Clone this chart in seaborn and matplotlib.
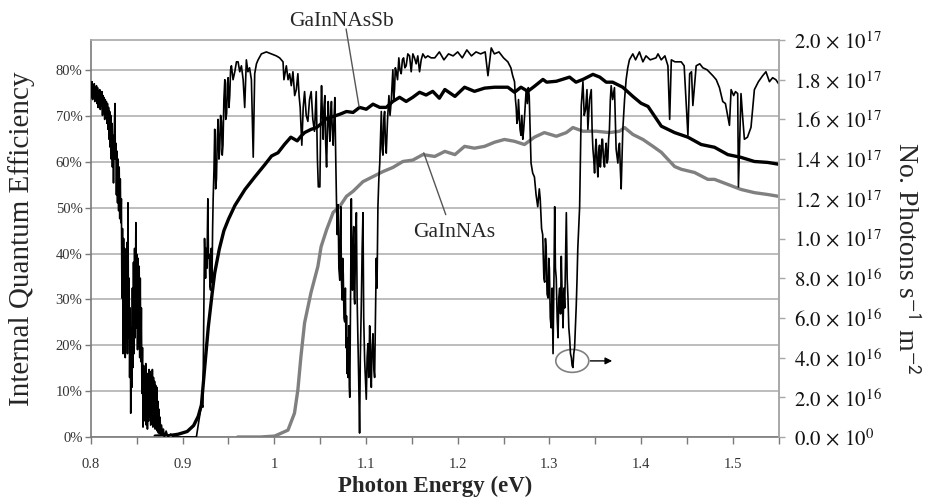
import matplotlib
matplotlib.use('Agg')
import numpy as np
import pandas as pd
import matplotlib.pyplot as plt
import seaborn as sns
from matplotlib.patches import Ellipse
from matplotlib.ticker import MultipleLocator

sns.set_theme(style='white')
plt.rcParams['font.family'] = ['Liberation Serif', 'DejaVu Serif']
plt.rcParams['mathtext.fontset'] = 'stix'

# ---------------- data ----------------
# GaInNAsSb internal quantum efficiency (%)
sb_ev = [0.870, 0.885, 0.895, 0.905, 0.912, 0.917, 0.9205, 0.924, 0.928, 0.932, 0.935, 0.940,
         0.945, 0.950, 0.957, 0.968, 0.979, 0.990, 0.997, 1.004, 1.011, 1.018, 1.025, 1.029,
         1.033, 1.040, 1.046, 1.051, 1.057, 1.064, 1.0714, 1.0787, 1.0859, 1.093, 1.1003,
         1.1076, 1.115, 1.1221, 1.1293, 1.1366, 1.1438, 1.151, 1.1584, 1.1655, 1.1728, 1.180,
         1.186, 1.197, 1.2075, 1.2183, 1.2293, 1.2402, 1.2547, 1.262, 1.269, 1.2765, 1.2837,
         1.293, 1.297, 1.3076, 1.322, 1.329, 1.3366, 1.3475, 1.355, 1.362, 1.369, 1.380,
         1.391, 1.400, 1.4076, 1.4221, 1.4366, 1.4511, 1.4656, 1.4801, 1.4946, 1.509,
         1.5236, 1.538, 1.550]
sb_iqe = [0.2, 0.3, 0.6, 1.2, 2.5, 4.5, 7.0, 15.0, 24.0, 31.0, 35.8, 41.0,
          45.0, 47.5, 50.5, 54.0, 56.8, 59.5, 61.3, 62.0, 63.8, 65.4, 64.6, 65.6,
          66.4, 67.1, 67.5, 68.3, 69.5, 69.9, 70.4, 71.0, 70.8, 71.9, 71.5,
          72.6, 71.9, 71.9, 73.2, 74.1, 73.2, 74.1, 75.2, 74.6, 75.4, 73.9,
          75.8, 74.3, 76.3, 75.4, 76.1, 76.3, 76.3, 75.2, 76.3, 75.4, 76.5,
          78.0, 77.4, 77.6, 78.5, 77.4, 78.0, 79.1, 78.5, 77.4, 77.4, 76.3,
          74.3, 72.8, 72.1, 67.8, 66.4, 65.4, 63.8, 63.2, 61.6, 61.0,
          60.1, 59.9, 59.5]

# GaInNAs internal quantum efficiency (%)
n_ev = [0.960, 0.985, 1.0004, 1.0149, 1.022, 1.0257, 1.029, 1.033, 1.040, 1.0475, 1.051,
        1.057, 1.0642, 1.0714, 1.0787, 1.0859, 1.0967, 1.1076, 1.1185, 1.1293, 1.1402,
        1.151, 1.162, 1.175, 1.186, 1.197, 1.2075, 1.2183, 1.2293, 1.2402, 1.251, 1.262,
        1.2728, 1.2837, 1.2945, 1.3076, 1.3185, 1.3257, 1.3366, 1.351, 1.3656, 1.3765,
        1.382, 1.391, 1.402, 1.413, 1.4221, 1.4366, 1.4438, 1.4583, 1.4728, 1.4801,
        1.4946, 1.509, 1.5236, 1.538, 1.550]
n_iqe = [0.0, 0.0, 0.2, 1.5, 5.2, 10.3, 17.5, 24.9, 31.5, 37.2, 41.5,
         45.2, 49.0, 50.3, 52.5, 53.6, 55.7, 56.8, 57.9, 58.8, 60.1,
         60.4, 61.6, 61.2, 62.3, 61.6, 63.4, 63.0, 63.4, 64.3, 64.9, 64.5,
         63.8, 65.4, 66.4, 65.6, 66.4, 67.5, 66.7, 66.7, 66.4, 66.7,
         67.5, 66.0, 64.9, 63.4, 62.1, 59.0, 58.4, 57.7, 56.2, 56.2,
         55.1, 54.0, 53.3, 52.9, 52.5]

# Photon flux spectrum (units of 1e17 photons s^-1 m^-2), read in pieces
spec_a_ev = [0.8000, 0.8006, 0.8012, 0.8018, 0.8024, 0.8030, 0.8036, 0.8042, 0.8048, 0.8054,
             0.8060, 0.8066, 0.8072, 0.8078, 0.8084, 0.8090, 0.8096, 0.8102, 0.8108, 0.8114,
             0.8120, 0.8126, 0.8132, 0.8138, 0.8144, 0.8150, 0.8156, 0.8162, 0.8168, 0.8174,
             0.8180, 0.8186, 0.8192, 0.8198, 0.8204, 0.8210, 0.8216, 0.8222, 0.8228, 0.8234,
             0.8240, 0.8246, 0.8252, 0.8258, 0.8262, 0.8266, 0.8272, 0.8278, 0.8284, 0.8290,
             0.8296, 0.8302, 0.8308, 0.8314, 0.8320, 0.8326, 0.8332, 0.8338, 0.8344, 0.8350,
             0.8356, 0.8362, 0.8368, 0.8374, 0.8380, 0.8386, 0.8392, 0.8398, 0.8404, 0.8410,
             0.8416, 0.8422, 0.8428, 0.8434, 0.8440, 0.8446, 0.8452, 0.8458, 0.8464, 0.8470,
             0.8476, 0.8482, 0.8490, 0.8496, 0.8502, 0.8508, 0.8514, 0.8520, 0.8526, 0.8532,
             0.8538, 0.8544, 0.8550, 0.8556, 0.8562, 0.8568, 0.8574, 0.8580, 0.8586, 0.8592,
             0.8598, 0.8604, 0.8610, 0.8616, 0.8622, 0.8628, 0.8634, 0.8640, 0.8646, 0.8652,
             0.8658, 0.8664, 0.8670, 0.8676, 0.8682, 0.8688, 0.8694, 0.8700, 0.8706, 0.8712,
             0.8718, 0.8724, 0.8730, 0.8736, 0.8742, 0.8748, 0.8754, 0.8760, 0.8770, 0.8780,
             0.8790, 0.8800, 0.8820, 0.8840, 0.8870, 0.8900, 0.9000, 0.9150]
spec_a_flux = [1.77, 1.71, 1.79, 1.70, 1.76, 1.72, 1.78, 1.69, 1.75, 1.70,
               1.77, 1.68, 1.76, 1.66, 1.74, 1.69, 1.75, 1.65, 1.73, 1.67,
               1.74, 1.62, 1.72, 1.66, 1.71, 1.60, 1.70, 1.63, 1.69, 1.58,
               1.68, 1.55, 1.66, 1.50, 1.64, 1.46, 1.62, 1.40, 1.58, 1.36,
               1.52, 1.28, 1.50, 1.62, 1.68, 1.40, 1.48, 1.22, 1.44, 1.18,
               1.40, 1.14, 1.36, 1.10, 1.30, 1.08, 1.20, 0.70, 1.05, 0.42,
               1.00, 0.48, 0.95, 0.40, 0.90, 0.52, 0.98, 0.42, 1.18, 0.50,
               0.80, 0.30, 0.65, 0.12, 0.55, 0.25, 0.75, 0.35, 0.88, 0.42,
               0.95, 0.50, 1.08, 0.55, 0.92, 0.44, 0.90, 0.46, 0.86, 0.40,
               0.80, 0.38, 0.65, 0.22, 0.45, 0.05, 0.36, 0.10, 0.34, 0.08,
               0.37, 0.06, 0.30, 0.04, 0.32, 0.08, 0.34, 0.10, 0.33, 0.06,
               0.31, 0.09, 0.34, 0.05, 0.30, 0.07, 0.28, 0.04, 0.26, 0.06,
               0.25, 0.03, 0.18, 0.02, 0.14, 0.02, 0.10, 0.01, 0.06, 0.01,
               0.04, 0.00, 0.03, 0.00, 0.015, 0.00, 0.00, 0.00]

spec_b_ev = [0.9207, 0.9221, 0.9239, 0.9250, 0.9257, 0.9265, 0.9275, 0.9282, 0.9290, 0.9298,
             0.9305, 0.9312, 0.9320, 0.9327, 0.9333, 0.9342, 0.9350, 0.9360, 0.9369, 0.9378,
             0.9387, 0.9396, 0.9405, 0.9414, 0.9424, 0.9432, 0.9440, 0.9450, 0.9460, 0.9470,
             0.9480, 0.9488, 0.9496, 0.9505, 0.9514, 0.9523, 0.9532, 0.9550, 0.9569, 0.9587,
             0.9605, 0.9623, 0.9641, 0.9660, 0.9677, 0.9695, 0.9712, 0.9730, 0.9750, 0.9770,
             0.9786, 0.9805, 0.9823, 0.9859, 0.9913, 0.9968, 1.0022, 1.0058, 1.0095, 1.0105,
             1.0131, 1.0150, 1.0167, 1.0185, 1.0203, 1.0222, 1.0240, 1.0257, 1.0270, 1.0282,
             1.0300, 1.0315, 1.0330, 1.0348, 1.0366, 1.0384, 1.0402, 1.0420, 1.0438, 1.0457,
             1.0470, 1.0480, 1.0497, 1.0506, 1.0515, 1.0524, 1.0533, 1.0542, 1.0551, 1.0560,
             1.0570, 1.0579, 1.0588, 1.0597, 1.0606, 1.0615, 1.0623, 1.0632, 1.0642, 1.0651]
spec_b_flux = [0.17, 0.15, 1.00, 0.80, 0.95, 0.85, 1.20, 0.90, 0.92, 0.76,
               0.74, 0.95, 0.78, 1.05, 1.20, 1.35, 1.55, 1.25, 1.30, 1.50,
               1.60, 1.40, 1.45, 1.62, 1.59, 1.42, 1.47, 1.70, 1.80, 1.60,
               1.63, 1.78, 1.81, 1.66, 1.72, 1.85, 1.87, 1.80, 1.84, 1.89,
               1.89, 1.84, 1.87, 1.80, 1.66, 1.90, 1.84, 1.86, 1.80, 1.41,
               1.83, 1.88, 1.90, 1.93, 1.94, 1.93, 1.92, 1.91, 1.89, 1.80,
               1.87, 1.80, 1.83, 1.77, 1.84, 1.72, 1.75, 1.83, 1.72, 1.66,
               1.47, 1.66, 1.74, 1.62, 1.59, 1.70, 1.74, 1.60, 1.54, 1.74,
               1.40, 1.26, 1.26, 1.60, 1.77, 1.62, 1.50, 1.66, 1.72, 1.48,
               1.36, 1.55, 1.69, 1.58, 1.49, 1.62, 1.69, 1.55, 1.47, 1.60]

spec_c_ev = [1.0660, 1.0670, 1.0678, 1.0686, 1.0696, 1.0704, 1.0714, 1.0720, 1.0725, 1.0732,
             1.0740, 1.0746, 1.0752, 1.0760, 1.0768, 1.0775, 1.0782, 1.0787, 1.0793, 1.0798,
             1.0805, 1.0812, 1.0818, 1.0823, 1.0830, 1.0840, 1.0846, 1.0852, 1.0858, 1.0866,
             1.0872, 1.0877, 1.0885, 1.0895, 1.0903, 1.0913, 1.0920, 1.0930, 1.0938, 1.0949,
             1.0958, 1.0967, 1.0975, 1.0985, 1.0993, 1.1003, 1.1012, 1.1021, 1.1030, 1.1040,
             1.1048, 1.1058, 1.1066, 1.1076, 1.1085, 1.1094, 1.1103, 1.1112, 1.1120, 1.1130,
             1.1140, 1.1150, 1.1158, 1.1167, 1.1176, 1.1185, 1.1194, 1.1203, 1.1212, 1.1221,
             1.1235, 1.1250, 1.1262, 1.1275, 1.1285, 1.1293, 1.1302, 1.1311, 1.1320, 1.1330,
             1.1344, 1.1358, 1.1370, 1.1384, 1.1397, 1.1410, 1.1424, 1.1438, 1.1456, 1.1475,
             1.1493, 1.1511, 1.1529, 1.1547, 1.1565, 1.1584, 1.1602, 1.1620, 1.1647, 1.1674,
             1.1710]
spec_c_flux = [1.71, 1.40, 1.19, 1.02, 1.17, 0.85, 0.79, 1.05, 1.16, 0.80,
               0.69, 0.90, 0.82, 0.60, 0.58, 0.75, 0.45, 0.61, 0.32, 0.50,
               0.30, 0.56, 0.25, 0.20, 0.60, 1.20, 0.80, 0.74, 0.95, 1.06,
               0.70, 0.67, 0.95, 1.13, 0.70, 0.47, 0.30, 0.02, 0.40, 0.67,
               0.95, 1.13, 0.60, 0.39, 0.30, 0.19, 0.40, 0.47, 0.30, 0.56,
               0.40, 0.25, 0.45, 0.52, 0.35, 0.30, 0.60, 0.90, 0.75, 1.16,
               1.30, 1.38, 1.50, 1.64, 1.45, 1.42, 1.60, 1.64, 1.48, 1.43,
               1.60, 1.72, 1.62, 1.69, 1.78, 1.85, 1.70, 1.75, 1.86, 1.84,
               1.80, 1.91, 1.85, 1.83, 1.90, 1.91, 1.86, 1.87, 1.93, 1.92,
               1.84, 1.93, 1.91, 1.88, 1.92, 1.84, 1.90, 1.93, 1.91, 1.92,
               1.91]

spec_d_ev = [1.1750, 1.1800, 1.1850, 1.1900, 1.1950, 1.2000, 1.2050, 1.2100, 1.2150, 1.2200,
             1.2250, 1.2300, 1.2330, 1.2366, 1.2400, 1.2450, 1.2500, 1.2547, 1.2580, 1.2600,
             1.2620, 1.2630, 1.2638, 1.2646, 1.2655, 1.2663, 1.2670, 1.2680, 1.2690, 1.2700,
             1.2710, 1.2720, 1.2730, 1.2747, 1.2760, 1.2770, 1.2780, 1.2790, 1.2800, 1.2818,
             1.2837, 1.2855, 1.2873, 1.2890, 1.2900, 1.2915, 1.2927, 1.2940, 1.2949, 1.2957,
             1.2965, 1.2975, 1.2986, 1.2993, 1.3000, 1.3010, 1.3020, 1.3030, 1.3040, 1.3050,
             1.3058, 1.3066, 1.3075, 1.3085, 1.3094, 1.3103, 1.3112, 1.3122, 1.3130, 1.3140,
             1.3149, 1.3158, 1.3167, 1.3176, 1.3185, 1.3194, 1.3203, 1.3212, 1.3221, 1.3230,
             1.3240, 1.3248, 1.3257, 1.3266, 1.3275, 1.3284, 1.3293, 1.3302, 1.3310, 1.3320,
             1.3330]
spec_d_flux = [1.91, 1.94, 1.90, 1.93, 1.92, 1.94, 1.91, 1.95, 1.92, 1.94,
               1.93, 1.94, 1.82, 1.96, 1.93, 1.94, 1.91, 1.89, 1.86, 1.82,
               1.79, 1.70, 1.66, 1.58, 1.60, 1.70, 1.64, 1.55, 1.52, 1.62,
               1.50, 1.55, 1.62, 1.75, 1.68, 1.76, 1.72, 1.55, 1.38, 1.33,
               1.31, 1.22, 1.16, 1.25, 1.20, 1.05, 1.02, 0.80, 0.78, 1.00,
               0.95, 0.72, 0.70, 0.90, 0.85, 0.60, 0.55, 0.75, 0.42, 0.80,
               1.16, 0.85, 0.80, 0.60, 0.50, 0.70, 0.75, 0.62, 0.91, 0.70,
               0.55, 0.75, 0.65, 0.90, 1.13, 0.80, 0.70, 0.55, 0.50, 0.42,
               0.40, 0.36, 0.35, 0.42, 0.45, 0.55, 0.66, 0.80, 0.95, 1.05,
               1.16]

spec_e_ev = [1.3348, 1.3366, 1.3380, 1.3395, 1.3410, 1.3420, 1.3438, 1.3457, 1.3466, 1.3475,
             1.3484, 1.3493, 1.3502, 1.3510, 1.3520, 1.3529, 1.3538, 1.3547, 1.3556, 1.3565,
             1.3573, 1.3580, 1.3590, 1.3601, 1.3610, 1.3620, 1.3629, 1.3638, 1.3646, 1.3655,
             1.3665, 1.3674, 1.3690, 1.3710, 1.3728, 1.3747, 1.3756, 1.3765, 1.3774, 1.3783,
             1.3801, 1.3820, 1.3837, 1.3855, 1.3873, 1.3910, 1.3940, 1.3982, 1.4020, 1.4054,
             1.4100, 1.4163, 1.4185, 1.4220, 1.4260, 1.4293, 1.4312, 1.4330, 1.4370, 1.4438,
             1.4470, 1.4493, 1.4511, 1.4530, 1.4550, 1.4565, 1.4601, 1.4640, 1.4674, 1.4720,
             1.4783, 1.4820, 1.4855, 1.4891, 1.4920, 1.4964, 1.4982, 1.5010, 1.5030, 1.5054,
             1.5062, 1.5090, 1.5110, 1.5127, 1.5160, 1.5199, 1.5236, 1.5280, 1.5326, 1.5362,
             1.5400, 1.5435, 1.5470, 1.5500]
spec_e_flux = [1.67, 1.79, 1.62, 1.65, 1.75, 1.55, 1.70, 1.75, 1.55, 1.45,
               1.40, 1.33, 1.45, 1.50, 1.38, 1.31, 1.44, 1.47, 1.36, 1.42,
               1.50, 1.50, 1.40, 1.36, 1.44, 1.48, 1.38, 1.40, 1.50, 1.55,
               1.70, 1.77, 1.70, 1.76, 1.45, 1.38, 1.46, 1.48, 1.35, 1.25,
               1.55, 1.70, 1.80, 1.86, 1.90, 1.93, 1.90, 1.94, 1.89, 1.92,
               1.90, 1.91, 1.93, 1.90, 1.92, 1.87, 1.60, 1.90, 1.89, 1.89,
               1.87, 1.67, 1.52, 1.83, 1.84, 1.67, 1.87, 1.88, 1.86, 1.85,
               1.82, 1.80, 1.76, 1.69, 1.68, 1.57, 1.75, 1.72, 1.74, 1.73,
               1.26, 1.73, 1.60, 1.50, 1.51, 1.56, 1.75, 1.79, 1.82, 1.84,
               1.79, 1.81, 1.80, 1.78]

x_ticks = [0.8, 0.9, 1.0, 1.1, 1.2, 1.3, 1.4, 1.5]
x_ticklabels = ['0.8', '0.9', '1', '1.1', '1.2', '1.3', '1.4', '1.5']
left_ticks = [0, 10, 20, 30, 40, 50, 60, 70, 80]
left_ticklabels = ['0%', '10%', '20%', '30%', '40%', '50%', '60%', '70%', '80%']
right_ticks = [0.0, 0.2, 0.4, 0.6, 0.8, 1.0, 1.2, 1.4, 1.6, 1.8, 2.0]
right_ticklabels = [r'$0.0\,\times\,10^{0}$', r'$2.0\,\times\,10^{16}$', r'$4.0\,\times\,10^{16}$',
                    r'$6.0\,\times\,10^{16}$', r'$8.0\,\times\,10^{16}$', r'$1.0\,\times\,10^{17}$',
                    r'$1.2\,\times\,10^{17}$', r'$1.4\,\times\,10^{17}$', r'$1.6\,\times\,10^{17}$',
                    r'$1.8\,\times\,10^{17}$', r'$2.0\,\times\,10^{17}$']

sb_df = pd.DataFrame({'ev': sb_ev, 'iqe': sb_iqe})
n_df = pd.DataFrame({'ev': n_ev, 'iqe': n_iqe})
spec_df = pd.DataFrame({
    'ev': spec_a_ev + spec_b_ev + spec_c_ev + spec_d_ev + spec_e_ev,
    'flux': spec_a_flux + spec_b_flux + spec_c_flux + spec_d_flux + spec_e_flux,
})

# ---------------- figure ----------------
fig = plt.figure(figsize=(9.28, 5.0), dpi=100)
ax = fig.add_axes([0.098, 0.126, 0.741, 0.794])
ax2 = ax.twinx()

sns.lineplot(data=n_df, x='ev', y='iqe', ax=ax, color='#808080', lw=2.4,
             sort=False, estimator=None, legend=False)
sns.lineplot(data=sb_df, x='ev', y='iqe', ax=ax, color='black', lw=2.4,
             sort=False, estimator=None, legend=False)
sns.lineplot(data=spec_df, x='ev', y='flux', ax=ax2, color='black', lw=1.2,
             sort=False, estimator=None, legend=False)

ax.set_xlim(0.8, 1.55)
ax.set_ylim(0, 86.6)
ax2.set_ylim(0, 2.0)

ax.set_xticks(x_ticks)
ax.set_xticklabels(x_ticklabels)
ax.xaxis.set_minor_locator(MultipleLocator(0.05))
ax.set_yticks(left_ticks)
ax.set_yticklabels(left_ticklabels)
ax2.set_yticks(right_ticks)
ax2.set_yticklabels(right_ticklabels)

ax.yaxis.grid(True, color='#b8b8b8', lw=1.3)
ax.xaxis.grid(False)
ax2.grid(False)
ax.set_axisbelow(True)

dark = '#7a7a7a'
light = '#a8a8a8'
for s in ['left', 'bottom']:
    ax.spines[s].set_color(dark)
    ax.spines[s].set_linewidth(1.2)
for s in ['top', 'right']:
    ax.spines[s].set_color(light)
    ax.spines[s].set_linewidth(1.2)
for s in ['left', 'top', 'bottom']:
    ax2.spines[s].set_visible(False)
ax2.spines['right'].set_color(light)
ax2.spines['right'].set_linewidth(1.2)

ax.tick_params(axis='y', which='both', left=True, direction='out', length=4, width=1,
               color=dark, labelsize=10.5, labelcolor='#333333', pad=2)
ax.tick_params(axis='x', which='both', bottom=True, direction='out', length=5, width=1,
               color=dark, labelsize=10.5, labelcolor='#333333', pad=10)
ax2.tick_params(axis='y', right=True, direction='out', length=4, width=1,
                color=light, labelsize=15, labelcolor='#111111', pad=7)

ax.set_xlabel('Photon Energy (eV)', fontsize=16.5, fontweight='bold')
ax.xaxis.set_label_coords(0.5, -0.098)
ax.set_ylabel('Internal Quantum Efficiency', fontsize=21)
ax.yaxis.set_label_coords(-0.082, 0.5)
ax2.set_ylabel(r'No. Photons s$^{\mathsf{-1}}$ m$^{\mathsf{-2}}$', fontsize=20, rotation=270)
ax2.yaxis.set_label_coords(1.205, 0.45)

# annotations
ax.text(1.0728, 90.7, 'GaInNAsSb', fontsize=15.5, ha='center', va='center')
ax.annotate('', xy=(1.0924, 72.1), xytext=(1.0783, 89.0), annotation_clip=False,
            arrowprops=dict(arrowstyle='-', color='#555555', lw=1.0, shrinkA=0, shrinkB=0))
ax.text(1.1967, 44.6, 'GaInNAs', fontsize=15.5, ha='center', va='center')
ax.annotate('', xy=(1.163, 62.0), xytext=(1.187, 48.5),
            arrowprops=dict(arrowstyle='-', color='#555555', lw=1.0, shrinkA=0, shrinkB=0))
ax.add_patch(Ellipse((1.325, 16.6), 0.036, 5.0, fill=False, edgecolor='#808080', lw=1.2,
                     zorder=5))
ax.annotate('', xy=(1.3685, 16.6), xytext=(1.3446, 16.6),
            arrowprops=dict(arrowstyle='-|>', color='black', lw=1.0, shrinkA=0, shrinkB=0,
                            mutation_scale=10))

fig.savefig('out.png', dpi=100)
